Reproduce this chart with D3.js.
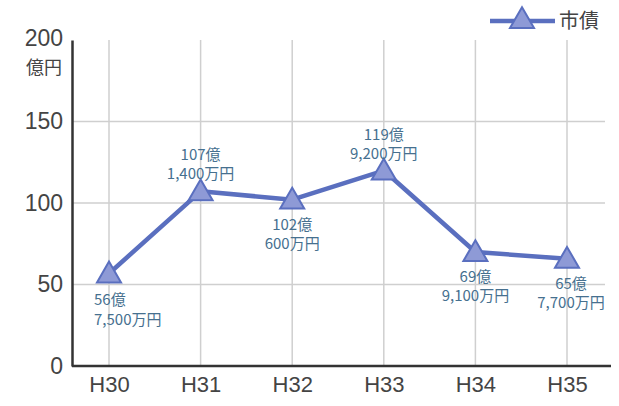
<!DOCTYPE html>
<html><head><meta charset="utf-8">
<script src="https://cdn.jsdelivr.net/npm/d3@7"></script>
<style>body{margin:0;background:#fff}svg{display:block}</style>
</head><body><svg id="c" width="619" height="406"></svg>
<script>
const categories = ["H30","H31","H32","H33","H34","H35"];
const values = [56.75, 107.14, 102.06, 119.92, 69.91, 65.77];
const labelTop = ["56億","107億","102億","119億","69億","65億"];
const labelBottom = ["7,500万円","1,400万円","600万円","9,200万円","9,100万円","7,700万円"];
const labelPlace = ["belowLeft","above","below","above","below","below"];
const yTicks = [0,50,100,150,200];
const seriesName = "市債";
const yUnit = "億円";

const svg = d3.select("#c");
const x = d3.scalePoint().domain(categories).range([109, 567]);
const y = d3.scaleLinear().domain([0,200]).range([366, 40]);
const font = "'Liberation Sans', Arial, sans-serif";
const jp = "'Noto Sans CJK JP', 'Liberation Sans', sans-serif";
const lineColor = "#5a6fbf", triFill = "#8e9ad6", lblColor = "#46708f";

// vertical grid
svg.append("g").selectAll("line").data(categories).join("line")
  .attr("x1", d=>x(d)).attr("x2", d=>x(d)).attr("y1", y(200)).attr("y2", y(0))
  .attr("stroke", "#cfcfcf").attr("stroke-width", 1.5);
// horizontal grid
svg.append("g").selectAll("line").data(yTicks.filter(t=>t>0 && t<200)).join("line")
  .attr("x1", 72).attr("x2", 605).attr("y1", d=>y(d)).attr("y2", d=>y(d))
  .attr("stroke", "#cfcfcf").attr("stroke-width", 1.5);

// y axis
const ya = svg.append("g").attr("transform","translate(72,0)")
  .call(d3.axisLeft(y).tickValues(yTicks).tickSize(0).tickPadding(9));
ya.select(".domain").attr("stroke","#333").attr("stroke-width",2.5);
ya.selectAll("text").attr("font-family",font).attr("font-size",23).attr("fill","#444");
ya.selectAll(".tick").filter(d=>d===200).select("text").attr("dy","0.25em");
// x axis
const xa = svg.append("g").attr("transform","translate(0,366)")
  .call(d3.axisBottom(x).tickSize(0).tickPadding(10));
xa.select(".domain").attr("d","M72,0H611").attr("stroke","#333").attr("stroke-width",2.5);
xa.selectAll("text").attr("font-family",font).attr("font-size",22).attr("fill","#444");

svg.append("text").attr("x",62).attr("y",74).attr("text-anchor","end")
  .attr("font-family",jp).attr("font-size",18).attr("fill","#444").text(yUnit);

// line
const data = categories.map((c,i)=>({c, v:values[i], i}));
svg.append("path").datum(data)
  .attr("d", d3.line().x(d=>x(d.c)).y(d=>y(d.v)))
  .attr("fill","none").attr("stroke",lineColor).attr("stroke-width",4.5).attr("stroke-linejoin","round");

const tri = d3.symbol().type(d3.symbolTriangle).size(250);
svg.append("g").selectAll("path").data(data).join("path")
  .attr("transform", d=>`translate(${x(d.c)},${y(d.v)+2})`)
  .attr("d", tri).attr("fill",triFill).attr("stroke",lineColor).attr("stroke-width",2);

// labels
const lg = svg.append("g").attr("font-family",jp).attr("font-size",15).attr("fill",lblColor);
data.forEach(d=>{
  const px = x(d.c), py = y(d.v);
  let anchor="middle", lx=px, y1, y2;
  if(labelPlace[d.i]==="above"){ y1 = py-31; y2 = py-12; }
  else if(labelPlace[d.i]==="below"){ y1 = py+30; y2 = py+49; }
  else { anchor="start"; lx = px-15; y1 = py+32; y2 = py+52; }
  if(d.i===5){ lx = px+4; }
  lg.append("text").attr("x",lx).attr("y",y1).attr("text-anchor",anchor).text(labelTop[d.i]);
  lg.append("text").attr("x",lx).attr("y",y2).attr("text-anchor",anchor).text(labelBottom[d.i]);
});

// legend
const leg = svg.append("g");
leg.append("line").attr("x1",490).attr("x2",555).attr("y1",21).attr("y2",21)
  .attr("stroke",lineColor).attr("stroke-width",4.5);
leg.append("path").attr("transform","translate(522,21)").attr("d",tri)
  .attr("fill",triFill).attr("stroke",lineColor).attr("stroke-width",2);
leg.append("text").attr("x",559).attr("y",28).attr("font-family",jp).attr("font-size",20)
  .attr("fill","#444").text(seriesName);
</script></body></html>
